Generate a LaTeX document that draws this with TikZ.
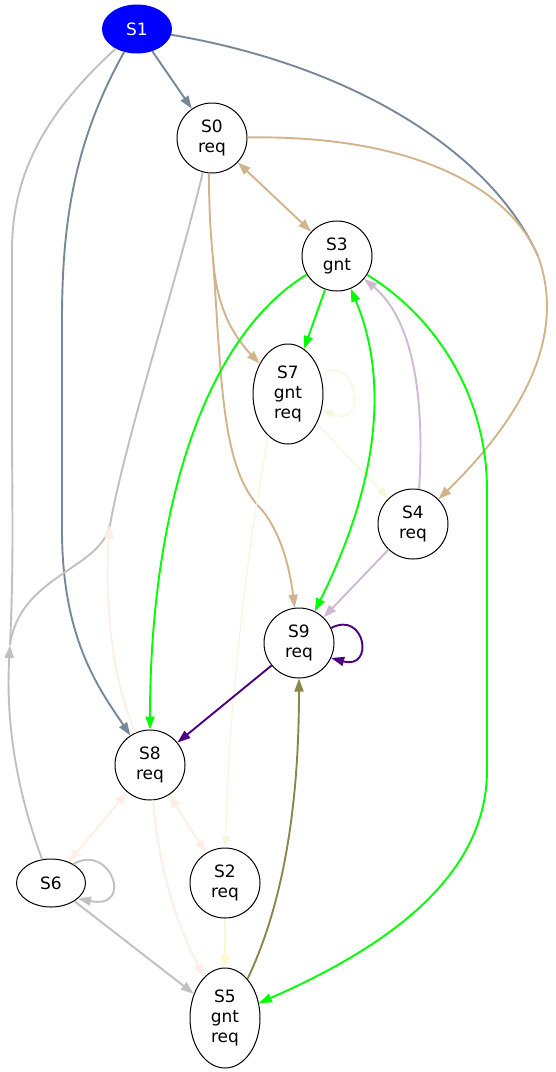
\documentclass[tikz,border=0pt]{standalone}
\usepackage{xcolor}
\usepackage{fontspec}
\setmainfont{DejaVu Sans}
\usepackage{tikz}
\usetikzlibrary{shapes,arrows.meta,calc}

\definecolor{cSlate}{HTML}{778899}
\definecolor{cTan}{HTML}{D2B48C}
\definecolor{cSilver}{HTML}{C0C0C0}
\definecolor{cShell}{HTML}{FFEEE6}
\definecolor{cBeige}{HTML}{F6F6DC}
\definecolor{cLemon}{HTML}{FFF8C8}
\definecolor{cGreen}{HTML}{00FF00}
\definecolor{cThistle}{HTML}{D0B8D4}
\definecolor{cIndigo}{HTML}{4B0082}
\definecolor{cKhaki}{HTML}{8B864E}
\definecolor{cBlue}{HTML}{0000FF}

\begin{document}
\begin{tikzpicture}[
    x=1pt, y=-1pt,
    stnode/.style={circle, draw, line width=1pt, minimum size=70pt, inner sep=1pt, align=center, font=\fontsize{17}{20}\selectfont},
    stoval/.style={ellipse, draw, line width=1pt, minimum width=70pt, minimum height=100pt, inner sep=1pt, align=center, font=\fontsize{17}{20}\selectfont},
    stflat/.style={ellipse, draw, line width=1pt, minimum width=69pt, minimum height=48pt, inner sep=1pt, font=\fontsize{17}{20}\selectfont},
    ln/.style={line width=1.9pt},
    arr/.style={line width=1.9pt, -{Triangle[length=13pt,width=9pt]}},
    biarr/.style={line width=1.9pt, {Triangle[length=13pt,width=9pt]}-{Triangle[length=13pt,width=9pt]}},
    arrthin/.style={line width=1.1pt, -{Triangle[length=12pt,width=8pt]}}
]
\useasboundingbox (0,0) rectangle (556,1072);

% states
\node[stflat, fill=cBlue, draw=cBlue, text=white] (S1) at (137,29) {S1};
\node[stnode] (S0) at (212,138) {S0\\req};
\node[stnode] (S3) at (337,256) {S3\\gnt};
\node[stoval] (S7) at (288,394) {S7\\gnt\\req};
\node[stnode] (S4) at (413,524) {S4\\req};
\node[stnode] (S9) at (299,643) {S9\\req};
\node[stnode] (S8) at (150,765) {S8\\req};
\node[stflat] (S6) at (51,883) {S6};
\node[stnode] (S2) at (225,883) {S2\\req};
\node[stoval] (S5) at (225,1018) {S5\\gnt\\req};

% merge points
\coordinate (R) at (538,256);
\coordinate (T) at (213,258);
\coordinate (J) at (110,525);
\coordinate (L) at (10,645);

% slate
\draw[arr, cSlate] (S1) -- (S0);
\draw[arr, cSlate] (S1) .. controls (75,140) and (62,220) .. (62,320) -- (62,530) .. controls (62,640) and (100,690) .. (S8);
\draw[ln, cSlate] (S1) .. controls (350,65) and (490,150) .. (R);

% tan
\draw[ln, cTan] (S0) .. controls (400,135) and (505,180) .. (R);
\draw[arr, cTan] (R) .. controls (565,330) and (530,410) .. (S4);
\draw[biarr, cTan] (S0) -- (S3);
\draw[ln, cTan] (S0.-95) .. controls (209,200) and (210,230) .. (T);
\draw[arr, cTan] (T) .. controls (216,300) and (228,330) .. (S7);
\draw[arr, cTan] (T) .. controls (222,390) and (222,470) .. (262,510) .. controls (282,535) and (290,570) .. (S9);

% silver
\draw[ln, cSilver] (S0.-105) .. controls (180,270) and (125,440) .. (J);
\draw[ln, cSilver] (J) .. controls (100,570) and (20,575) .. (L);
\draw[arr, cSilver] (S6) .. controls (20,800) and (5,730) .. (L);
\draw[ln, cSilver] (L) .. controls (14,560) and (12,500) .. (12,420) -- (12,250) .. controls (12,160) and (60,100) .. (S1);
\draw[arr, cSilver] (S6.40) .. controls (110,842) and (135,910) .. (S6.-30);
\draw[arr, cSilver] (S6) -- (S5);

% seashell
\draw[arr, cShell] (S8) .. controls (112,680) and (104,600) .. (J);
\draw[biarr, cShell] (S8) -- (S6);
\draw[biarr, cShell] (S8) -- (S2);
\draw[arr, cShell] (S8) .. controls (160,880) and (180,930) .. (S5);

% beige
\draw[arrthin, cBeige] (S7.30) .. controls (355,350) and (370,430) .. (S7.-25);
\draw[arrthin, cBeige] (S7) -- (S4);
\draw[arrthin, cBeige] (S7.-115) .. controls (245,560) and (228,720) .. (S2);
\draw[arr, cLemon] (S2) -- (S5);

% green
\draw[arr, cGreen] (S3) -- (S7);
\draw[arr, cGreen] (S3) .. controls (200,340) and (150,520) .. (S8);
\draw[biarr, cGreen] (S3) .. controls (385,370) and (385,470) .. (S9);
\draw[arr, cGreen] (S3) .. controls (440,320) and (487,400) .. (487,490) -- (487,770) .. controls (487,880) and (380,950) .. (S5);

% thistle
\draw[arr, cThistle] (S4.80) .. controls (422,440) and (425,330) .. (S3);
\draw[arr, cThistle] (S4) -- (S9);

% indigo
\draw[arr, cIndigo] (S9.25) .. controls (365,610) and (375,670) .. (S9.-25);
\draw[arr, cIndigo] (S9) -- (S8);

% khaki
\draw[arr, cKhaki] (S5.60) .. controls (285,900) and (299,800) .. (S9);
\end{tikzpicture}
\end{document}
